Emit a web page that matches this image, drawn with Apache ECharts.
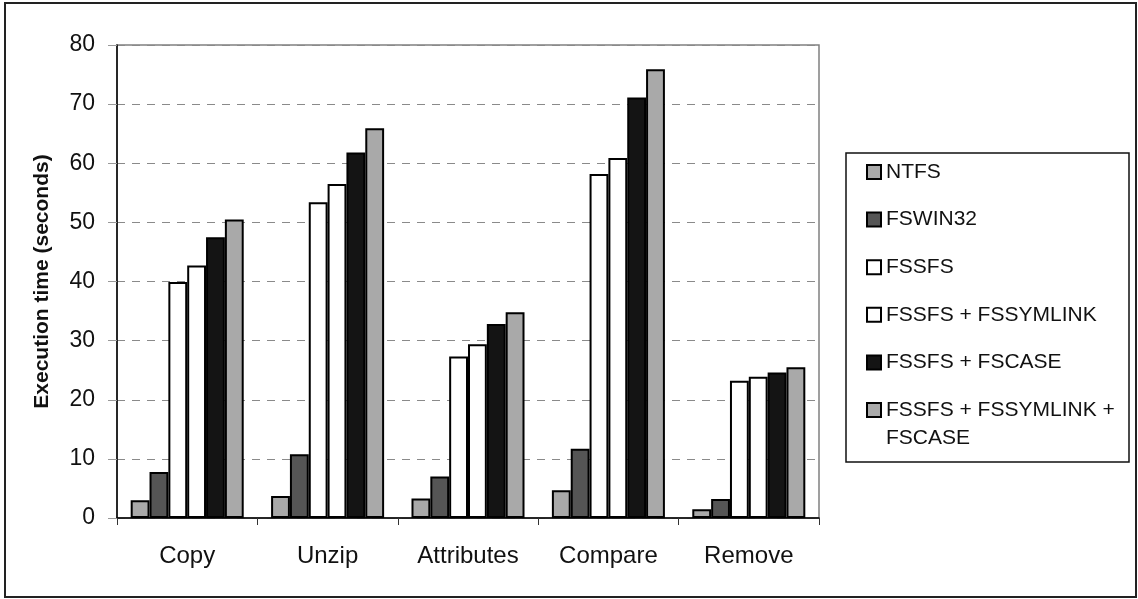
<!DOCTYPE html>
<html>
<head>
<meta charset="utf-8">
<title>Execution time</title>
<script src="https://cdn.jsdelivr.net/npm/echarts@6/dist/echarts.min.js"></script>
<style>
  html, body { margin: 0; padding: 0; background: #fff; }
  #chart { width: 1138px; height: 599px; }
</style>
</head>
<body>
<div id="chart"></div>
<script>
// Benchmark operations (x axis)
const categories = ['Copy', 'Unzip', 'Attributes', 'Compare', 'Remove'];

// Execution time in seconds, one array per file-system configuration
const ntfs            = [3.0, 3.7, 3.3, 4.7, 1.5];
const fswin32         = [7.8, 10.8, 7.0, 11.7, 3.2];
const fssfs           = [39.9, 53.4, 27.3, 58.2, 23.2];
const fssfsSymlink    = [42.7, 56.5, 29.4, 60.9, 23.9];
const fssfsCase       = [47.5, 61.8, 32.8, 71.1, 24.6];
const fssfsSymlinkCase = [50.5, 65.9, 34.8, 75.9, 25.5];

const seriesNames = [
  'NTFS',
  'FSWIN32',
  'FSSFS',
  'FSSFS + FSSYMLINK',
  'FSSFS + FSCASE',
  'FSSFS + FSSYMLINK + FSCASE'
];
const seriesData = [ntfs, fswin32, fssfs, fssfsSymlink, fssfsCase, fssfsSymlinkCase];
const seriesColors = ['#a9a9a9', '#555555', '#ffffff', '#ffffff', '#141414', '#a9a9a9'];

// y-axis range and step
const yMin = 0, yMax = 80, yStep = 10;

const FONT = '"Liberation Sans", Arial, Helvetica, sans-serif';

const chart = echarts.init(document.getElementById('chart'), null, { renderer: 'canvas' });

const series = seriesNames.map((name, i) => ({
  name: name,
  type: 'bar',
  data: seriesData[i],
  barGap: '0%',
  barCategoryGap: '19.5%',
  itemStyle: {
    color: seriesColors[i],
    borderColor: '#000',
    borderWidth: 2
  },
  emphasis: { disabled: true }
}));

const legendText = {
  fontFamily: FONT,
  fontSize: 21,
  color: '#111',
  lineHeight: 28
};

chart.setOption({
  animation: false,
  backgroundColor: '#fff',
  grid: {
    left: 117, top: 45, right: 319, bottom: 81,
    show: true,
    borderColor: '#808080',
    borderWidth: 1.5,
    backgroundColor: 'transparent'
  },
  legend: [
    {
      data: seriesNames.slice(0, 5),
      orient: 'vertical',
      left: 866,
      top: 158,
      padding: 0,
      itemGap: 19.6,
      itemWidth: 14,
      itemHeight: 14,
      icon: 'rect',
      selectedMode: false,
      textStyle: legendText
    },
    {
      // last entry wraps onto a second line, icon aligned with the first line
      data: [seriesNames[5]],
      orient: 'vertical',
      left: 866,
      top: 368,
      padding: 0,
      itemWidth: 14,
      itemHeight: 14,
      icon: 'rect',
      selectedMode: false,
      formatter: () => '\nFSSFS + FSSYMLINK +\nFSCASE',
      textStyle: legendText
    }
  ],
  xAxis: {
    type: 'category',
    data: categories,
    axisLine: { lineStyle: { color: '#000', width: 1.5 } },
    axisTick: { show: true, length: 7, lineStyle: { color: '#333' } },
    axisLabel: {
      fontFamily: FONT,
      fontSize: 24,
      color: '#111',
      margin: 26
    },
    splitLine: { show: false }
  },
  yAxis: {
    type: 'value',
    min: yMin,
    max: yMax,
    interval: yStep,
    name: 'Execution time (seconds)',
    nameLocation: 'middle',
    nameGap: 64,
    nameTextStyle: {
      fontFamily: FONT,
      fontSize: 21,
      fontWeight: 'bold',
      color: '#111'
    },
    axisLine: { show: true, lineStyle: { color: '#000', width: 1.5 } },
    axisTick: { show: true, length: 9, lineStyle: { color: '#999' } },
    axisLabel: {
      fontFamily: FONT,
      fontSize: 23,
      color: '#111',
      margin: 22
    },
    splitLine: {
      show: true,
      lineStyle: { color: '#8a8a8a', width: 1, type: [8, 7] }
    }
  },
  graphic: [
    {
      // legend frame
      type: 'rect',
      shape: { x: 846, y: 153, width: 283, height: 309 },
      style: { fill: 'none', stroke: '#111', lineWidth: 1.5 },
      silent: true,
      z: 10
    },
    {
      // outer frame
      type: 'rect',
      shape: { x: 5, y: 3, width: 1131, height: 594 },
      style: { fill: 'none', stroke: '#222', lineWidth: 2 },
      silent: true,
      z: 10
    }
  ],
  series: series
});
</script>
</body>
</html>
